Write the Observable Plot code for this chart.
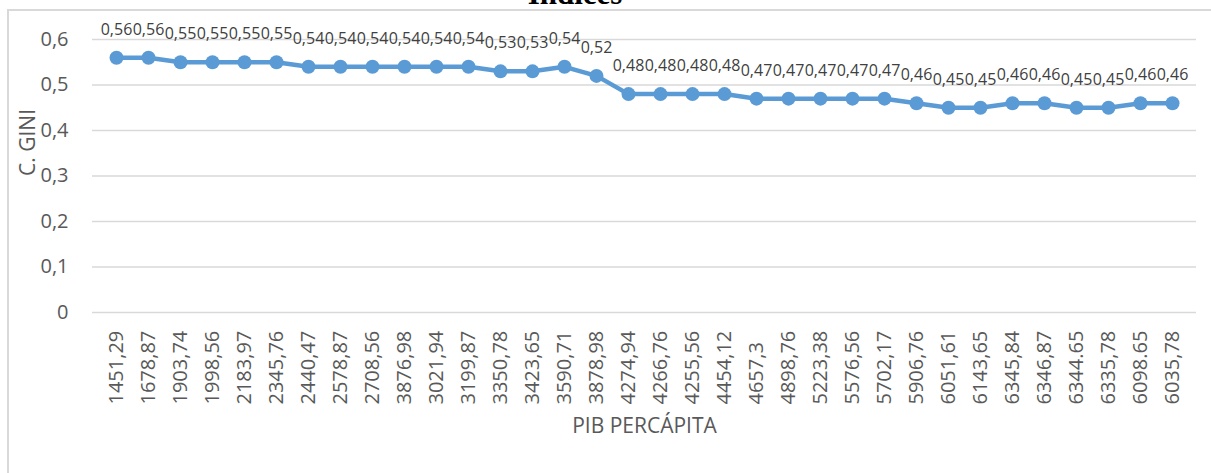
<!DOCTYPE html>
<html><head><meta charset="utf-8">
<script src="https://cdn.jsdelivr.net/npm/d3@7"></script>
<script src="https://cdn.jsdelivr.net/npm/@observablehq/plot@0.6"></script>
<style>
html,body{margin:0;padding:0;background:#fff;overflow:hidden;}
#wrap{position:relative;width:1211px;height:473px;overflow:hidden;}
#frame{position:absolute;left:7px;top:9px;width:1400px;height:700px;border:2px solid #d9d9d9;box-sizing:border-box;}
#chart{position:absolute;left:0;top:0;}
#title{position:absolute;left:0;width:1150px;text-align:center;top:-22px;font:bold 31px "Liberation Serif",serif;line-height:31px;color:#000;}
</style></head><body>
<div id="wrap"><div id="frame"></div><div id="chart"></div><div id="title"></div></div>
<script>
const titleText = "Índices";
const xTitle = "PIB PERCÁPITA";
const yTitle = "C. GINI";
const pibLabels = ["1451,29","1678,87","1903,74","1998,56","2183,97","2345,76","2440,47","2578,87","2708,56","3876,98","3021,94","3199,87","3350,78","3423,65","3590,71","3878,98","4274,94","4266,76","4255,56","4454,12","4657,3","4898,76","5223,38","5576,56","5702,17","5906,76","6051,61","6143,65","6345,84","6346,87","6344.65","6335,78","6098.65","6035,78"];
const giniValues = [0.56,0.56,0.55,0.55,0.55,0.55,0.54,0.54,0.54,0.54,0.54,0.54,0.53,0.53,0.54,0.52,0.48,0.48,0.48,0.48,0.47,0.47,0.47,0.47,0.47,0.46,0.45,0.45,0.46,0.46,0.45,0.45,0.46,0.46];
const giniLabels = ["0,56","0,56","0,55","0,55","0,55","0,55","0,54","0,54","0,54","0,54","0,54","0,54","0,53","0,53","0,54","0,52","0,48","0,48","0,48","0,48","0,47","0,47","0,47","0,47","0,47","0,46","0,45","0,45","0,46","0,46","0,45","0,45","0,46","0,46"];
const yTickValues = [0, 0.1, 0.2, 0.3, 0.4, 0.5, 0.6];
const yTickLabels = ["0","0,1","0,2","0,3","0,4","0,5","0,6"];

document.getElementById("title").textContent = titleText;
const rows = pibLabels.map((p, i) => ({pib: p, gini: giniValues[i], label: giniLabels[i]}));
const blue = "#5b9bd5";

const chart = Plot.plot({
  width: 1211,
  height: 473,
  marginLeft: 92,
  marginRight: 15,
  marginTop: 39,
  marginBottom: 161,
  style: {fontFamily: "'Open Sans', sans-serif", fontSize: "20px", color: "#595959", background: "transparent"},
  x: {type: "point", domain: pibLabels, padding: 0.5},
  y: {domain: [0, 0.6]},
  marks: [
    Plot.ruleY(yTickValues, {stroke: "#d9d9d9", strokeWidth: 1.5}),
    Plot.axisY({ticks: yTickValues, tickFormat: d => yTickLabels[yTickValues.indexOf(d)], tickSize: 0, tickPadding: 24, fontSize: 20, label: null}),
    Plot.axisX({tickRotate: -90, textAnchor: "start", tickSize: 0, tickPadding: 92, fontSize: 20, label: null}),
    Plot.line(rows, {x: "pib", y: "gini", stroke: blue, strokeWidth: 4.5}),
    Plot.dot(rows, {x: "pib", y: "gini", r: 7, fill: blue, stroke: null}),
    Plot.text(rows, {x: "pib", y: "gini", text: "label", dy: -28, fontSize: 16, fill: "#404040"}),
    Plot.text([yTitle], {text: d => d, frameAnchor: "left", dx: -64, rotate: -90, fontSize: 21, fill: "#595959"}),
    Plot.text([xTitle], {text: d => d, frameAnchor: "bottom", dy: 120, fontSize: 21, fill: "#595959"})
  ]
});
document.getElementById("chart").appendChild(chart);
</script>
</body></html>
